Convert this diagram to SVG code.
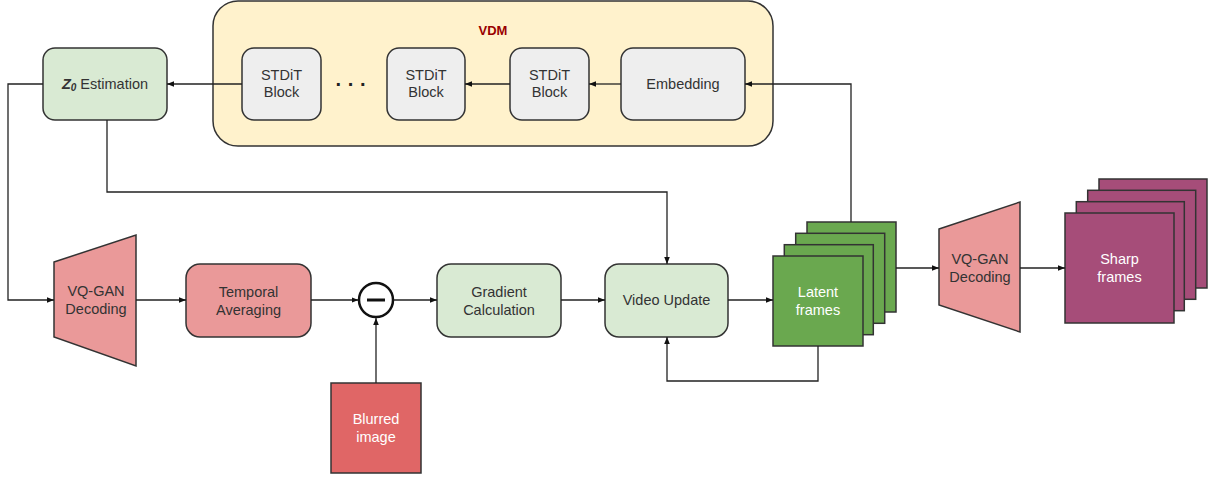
<svg xmlns="http://www.w3.org/2000/svg" width="1214" height="480" viewBox="0 0 1214 480">
<defs>
<marker id="ah" viewBox="0 0 10 10" refX="10" refY="5" markerWidth="7" markerHeight="7" markerUnits="userSpaceOnUse" orient="auto"><path d="M0,1 L10,5 L0,9 Z" fill="#111"/></marker>
<style>
.n{stroke:#333;stroke-width:1.5}
.g{fill:#d9ead3}
.gr{fill:#eeeeee}
.p{fill:#ea9999}
.t{font-family:"Liberation Sans",Arial,sans-serif;font-size:14.5px;fill:#333;text-anchor:middle}
.w{fill:#fff}
.c{fill:none;stroke:#222;stroke-width:1.3}
</style>
</defs>
<rect width="1214" height="480" fill="#fff"/>
<g id="vdm">
<rect x="213" y="1" width="560" height="145" rx="25" fill="#fff2cc" class="n"/>
<text x="493" y="35" class="t" style="fill:#990000;font-weight:bold;font-size:13px">VDM</text>
</g>
<g id="z0">
<rect x="43" y="48" width="124" height="72" rx="12" class="n g"/>
<text x="105" y="89" class="t"><tspan style="font-weight:bold;font-style:italic">Z</tspan><tspan style="font-style:italic;font-weight:bold;font-size:10px" dy="2">0</tspan><tspan dy="-2"> Estimation</tspan></text>
</g>
<g id="stdit1">
<rect x="242" y="48" width="79" height="72" rx="12" class="n gr"/>
<text x="281.5" y="80" class="t">STDiT</text><text x="281.5" y="97" class="t">Block</text>
</g>
<g id="dots"><text x="351" y="91" class="t" style="font-size:20px;font-weight:bold;fill:#222">· · ·</text></g>
<g id="stdit2">
<rect x="387" y="48" width="78" height="72" rx="12" class="n gr"/>
<text x="426" y="80" class="t">STDiT</text><text x="426" y="97" class="t">Block</text>
</g>
<g id="stdit3">
<rect x="510" y="48" width="79" height="72" rx="12" class="n gr"/>
<text x="549.5" y="80" class="t">STDiT</text><text x="549.5" y="97" class="t">Block</text>
</g>
<g id="embedding">
<rect x="621" y="48" width="124" height="72" rx="12" class="n gr"/>
<text x="683" y="89" class="t">Embedding</text>
</g>
<g id="vqgan1">
<polygon points="54,262 136,235 136,366 54,337" class="n p"/>
<text x="96" y="296" class="t">VQ-GAN</text><text x="96" y="314" class="t">Decoding</text>
</g>
<g id="temporal">
<rect x="186" y="264" width="125" height="73" rx="14" class="n p"/>
<text x="248.5" y="297" class="t">Temporal</text><text x="248.5" y="315" class="t">Averaging</text>
</g>
<g id="minus">
<circle cx="376" cy="300" r="17" fill="#fff" stroke="#111" stroke-width="2.5"/>
<line x1="367" y1="300" x2="385" y2="300" stroke="#111" stroke-width="3"/>
</g>
<g id="blurred">
<rect x="331" y="383" width="90" height="90" fill="#e06666" class="n"/>
<text x="376" y="424" class="t w">Blurred</text><text x="376" y="442" class="t w">image</text>
</g>
<g id="gradient">
<rect x="437" y="264" width="124" height="73" rx="14" class="n g"/>
<text x="499" y="297" class="t">Gradient</text><text x="499" y="315" class="t">Calculation</text>
</g>
<g id="videoupdate">
<rect x="605" y="264" width="123" height="73" rx="14" class="n g"/>
<text x="666.5" y="305" class="t">Video Update</text>
</g>
<g id="latent">
<rect x="807" y="222" width="89" height="90" fill="#6aa84f" class="n"/>
<rect x="795.7" y="233.3" width="89" height="90" fill="#6aa84f" class="n"/>
<rect x="784.3" y="244.7" width="89" height="90" fill="#6aa84f" class="n"/>
<rect x="773" y="256" width="90" height="90" fill="#6aa84f" class="n"/>
<text x="818" y="297" class="t w">Latent</text><text x="818" y="315" class="t w">frames</text>
</g>
<g id="vqgan2">
<polygon points="939,229 1020,202 1020,332 939,305" class="n p"/>
<text x="980" y="264" class="t">VQ-GAN</text><text x="980" y="282" class="t">Decoding</text>
</g>
<g id="sharp">
<rect x="1099" y="179" width="108" height="109" fill="#a64d79" class="n"/>
<rect x="1087.7" y="190.3" width="108" height="109" fill="#a64d79" class="n"/>
<rect x="1076.3" y="201.7" width="108" height="109" fill="#a64d79" class="n"/>
<rect x="1065" y="213" width="109" height="110" fill="#a64d79" class="n"/>
<text x="1119.5" y="264" class="t w">Sharp</text><text x="1119.5" y="282" class="t w">frames</text>
</g>
<g id="connectors">
<path d="M851,222 V84 H745" class="c" marker-end="url(#ah)"/>
<path d="M621,84 H589" class="c" marker-end="url(#ah)"/>
<path d="M510,84 H465" class="c" marker-end="url(#ah)"/>
<path d="M242,84 H167" class="c" marker-end="url(#ah)"/>
<path d="M43,84 H8 V300 H54" class="c" marker-end="url(#ah)"/>
<path d="M107,120 V192 H667 V264" class="c" marker-end="url(#ah)"/>
<path d="M136,300 H186" class="c" marker-end="url(#ah)"/>
<path d="M311,300 H358.5" class="c" marker-end="url(#ah)"/>
<path d="M376,383 V318" class="c" marker-end="url(#ah)"/>
<path d="M393.5,300 H437" class="c" marker-end="url(#ah)"/>
<path d="M561,300 H605" class="c" marker-end="url(#ah)"/>
<path d="M728,300 H773" class="c" marker-end="url(#ah)"/>
<path d="M818,346 V381 H667 V337" class="c" marker-end="url(#ah)"/>
<path d="M896,268 H939" class="c" marker-end="url(#ah)"/>
<path d="M1020,268 H1065" class="c" marker-end="url(#ah)"/>
</g>
</svg>
